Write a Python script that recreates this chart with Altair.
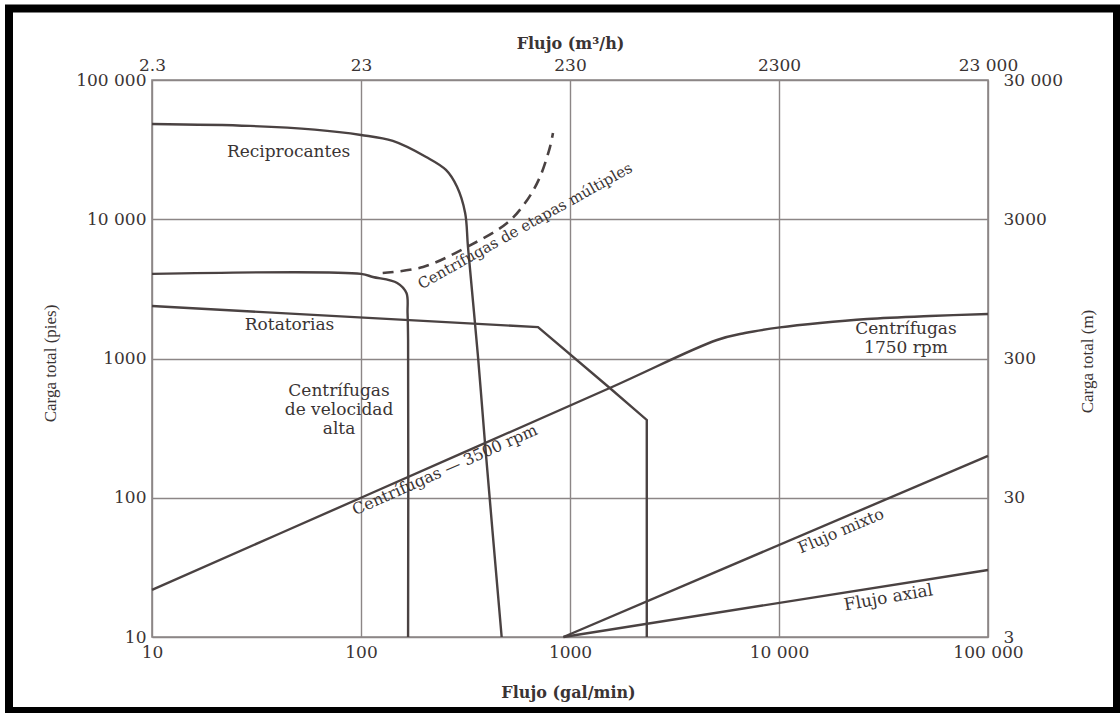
import altair as alt
import pandas as pd

# Plot area in pixels (log-log, 4 decades each way)
W, H = 836, 557

# Axis ticks and their labels
flow_ticks = [10, 100, 1000, 10000, 100000]          # gal/min
flow_gpm_labels = ["10", "100", "1000", "10 000", "100 000"]
flow_m3h_labels = ["2.3", "23", "230", "2300", "23 000"]
head_ticks = [10, 100, 1000, 10000, 100000]          # ft
head_ft_labels = ["10", "100", "1000", "10 000", "100 000"]
head_m_labels = ["3", "30", "300", "3000", "30 000"]

# Boundary curves (flow in gal/min, head in ft)
# smooth boundaries
recip_x = [10, 29.4, 60, 100, 142, 205, 255, 288, 315, 325, 363, 392, 471]
recip_y = [48300, 46800, 44000, 40300, 36500, 28000, 22600, 17100, 11100, 6320, 1026, 247, 10]

highspeed_x = [10, 100, 114, 149, 165, 167, 168, 168]
highspeed_y = [4050, 4050, 3850, 3490, 2950, 2120, 1360, 10]

centrif_x = [10, 100, 1550, 5050, 6870, 10100, 15700, 26400, 52700, 100000]
centrif_y = [21.8, 100, 614, 1358, 1524, 1672, 1800, 1922, 2020, 2088]

multistage_x = [127, 198, 321, 500, 623, 718, 802, 829]
multistage_y = [4110, 4540, 6320, 9400, 13700, 20100, 33000, 41600]

# straight-segment boundaries
rotary_x = [10, 703, 1550, 2330, 2330]
rotary_y = [2380, 1680, 614, 362, 10]

mixed_x = [930, 100000]
mixed_y = [10, 200]

axial_x = [930, 100000]
axial_y = [10, 30.3]

# Region labels
label_text = ["Reciprocantes", "Rotatorias", "Centrífugas", "de velocidad", "alta",
              "Centrífugas", "1750 rpm", "Centrífugas — 3500 rpm",
              "Centrífugas de etapas múltiples", "Flujo mixto", "Flujo axial"]
label_x = [45, 45.5, 78.5, 78.5, 78.5, 40500, 40500, 252, 609, 19800, 33400]
label_y = [30400, 1742, 587, 427, 312, 1630, 1189, 158, 8960, 57.7, 19.1]
label_angle = [0, 0, 0, 0, 0, 0, 0, 336, 330.8, 337, 350]
label_size = [17, 17, 17, 17, 17, 17, 17, 16, 15, 16, 17]


def series(name, xs, ys):
    return pd.DataFrame({"series": name, "x": xs, "y": ys, "seq": range(len(xs))})


smooth = pd.concat([
    series("recip", recip_x, recip_y),
    series("highspeed", highspeed_x, highspeed_y),
    series("centrif", centrif_x, centrif_y),
], ignore_index=True)
straight = pd.concat([
    series("rotary", rotary_x, rotary_y),
    series("mixed", mixed_x, mixed_y),
    series("axial", axial_x, axial_y),
], ignore_index=True)
dashed = series("multistage", multistage_x, multistage_y)
labels = pd.DataFrame({"text": label_text, "x": label_x, "y": label_y,
                       "angle": label_angle, "size": label_size})


def label_expr(texts):
    arr = ",".join("'" + t + "'" for t in texts)
    return "[" + arr + "][round(log(datum.value)/LN10)-1]"


LINE = "#4a4242"
GRID = "#8c8686"
TXT = "#3a3434"
FONT = "DejaVu Serif"

xscale = alt.Scale(type="log", domain=[10, 100000], nice=False)
yscale = alt.Scale(type="log", domain=[10, 100000], nice=False)

axis_common = dict(domain=False, ticks=False, labelFont=FONT, labelFontSize=17,
                   labelColor=TXT, labelOverlap=False, labelFlush=False,
                   titleColor=TXT)

x_bottom = alt.X("x:Q", scale=xscale, axis=alt.Axis(
    orient="bottom", values=flow_ticks, labelExpr=label_expr(flow_gpm_labels),
    labelPadding=7, grid=True, gridColor=GRID, gridWidth=1.4,
    title="Flujo (gal/min)", titleFont=FONT, titleFontSize=16, titleFontWeight="bold",
    titleX=416, titleY=55, titleAlign="center", titleBaseline="middle", **axis_common))
y_left = alt.Y("y:Q", scale=yscale, axis=alt.Axis(
    orient="left", values=head_ticks, labelExpr=label_expr(head_ft_labels),
    labelPadding=6, grid=True, gridColor=GRID, gridWidth=1.4,
    title="Carga total (pies)", titleFont="Liberation Serif", titleFontSize=17,
    titleFontWeight="normal", titleAngle=270, titleX=-102, titleY=283,
    titleAlign="center", titleBaseline="middle", **axis_common))

x_top = alt.X("x:Q", scale=xscale, axis=alt.Axis(
    orient="top", values=flow_ticks, labelExpr=label_expr(flow_m3h_labels),
    labelPadding=6, grid=False,
    title="Flujo (m³/h)", titleFont=FONT, titleFontSize=16, titleFontWeight="bold",
    titleX=418, titleY=-37, titleAlign="center", titleBaseline="middle", **axis_common))
y_right = alt.Y("y:Q", scale=yscale, axis=alt.Axis(
    orient="right", values=head_ticks, labelExpr=label_expr(head_m_labels),
    labelPadding=15, labelAlign="left", grid=False,
    title="Carga total (m)", titleFont="Liberation Serif", titleFontSize=17,
    titleFontWeight="normal", titleAngle=270, titleX=99, titleY=281,
    titleAlign="center", titleBaseline="middle", **axis_common))

smooth_layer = alt.Chart(smooth).mark_line(
    color=LINE, strokeWidth=2.4, interpolate="catmull-rom"
).encode(x=x_bottom, y=y_left, detail="series:N", order="seq:Q")

straight_layer = alt.Chart(straight).mark_line(
    color=LINE, strokeWidth=2.4, interpolate="linear"
).encode(
    x=alt.X("x:Q", scale=xscale, axis=None),
    y=alt.Y("y:Q", scale=yscale, axis=None),
    detail="series:N", order="seq:Q",
)

dashed_layer = alt.Chart(dashed).mark_line(
    color=LINE, strokeWidth=2.6, strokeDash=[11, 7], interpolate="catmull-rom"
).encode(x=x_top, y=y_right, order="seq:Q")

text_layer = alt.Chart(labels).mark_text(
    font=FONT, color=TXT, align="center", baseline="middle"
).encode(
    x=alt.X("x:Q", scale=xscale, axis=None),
    y=alt.Y("y:Q", scale=yscale, axis=None),
    text="text:N",
    angle=alt.Angle("angle:Q", scale=None),
    size=alt.Size("size:Q", scale=None),
)

# Black frame around the page
frame = alt.Chart(pd.DataFrame({"k": [0]})).mark_rect(
    fillOpacity=0, stroke="black", strokeWidth=8
).encode(x=alt.value(-143), x2=alt.value(965), y=alt.value(-71.5), y2=alt.value(631))

chart = alt.layer(smooth_layer, straight_layer, dashed_layer, text_layer, frame).resolve_axis(
    x="independent", y="independent"
).properties(
    width=W, height=H,
    autosize=alt.AutoSizeParams(type="none"),
    padding={"left": 152, "top": 80, "right": 132, "bottom": 76},
    background="white",
).configure_view(stroke=GRID, strokeWidth=1.6)

chart.save("out.html", embed_options={"renderer": "svg", "actions": False})
